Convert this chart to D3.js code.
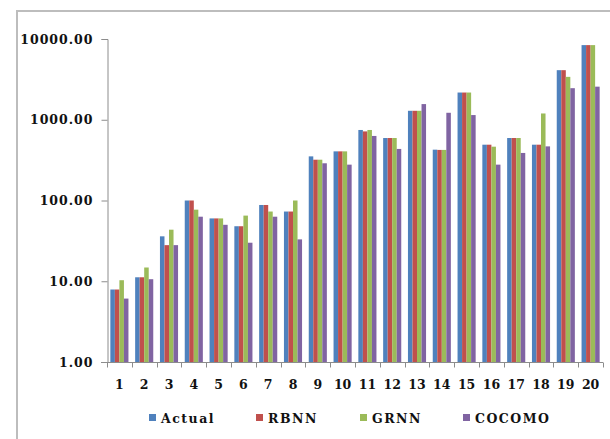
<!DOCTYPE html>
<html>
<head>
<meta charset="utf-8">
<script src="https://cdn.jsdelivr.net/npm/d3@7"></script>
<style>
  body { margin: 0; background: #fff; }
  svg text { font-family: "DejaVu Serif", serif; font-weight: bold; fill: #111; }
</style>
</head>
<body>
<div id="chart"></div>
<script>
var categories = ["1", "2", "3", "4", "5", "6", "7", "8", "9", "10",
    "11", "12", "13", "14", "15", "16", "17", "18", "19", "20"];
var seriesNames = ["Actual", "RBNN", "GRNN", "COCOMO"];
var actual = [7.9, 11.2, 36, 100, 60, 48, 88, 73, 352, 406, 747, 594, 1291, 426, 2173, 491, 594, 491, 4111, 8400];
var rbnn = [7.9, 11.2, 28, 100, 60, 48, 88, 73, 320, 406, 717, 594, 1291, 423, 2173, 491, 594, 491, 4111, 8400];
var grnn = [10.3, 14.8, 43.5, 77, 60, 65, 73, 100, 320, 406, 747, 594, 1291, 423, 2173, 464, 594, 1196, 3397, 8400];
var cocomo = [6.1, 10.6, 28, 63, 50, 30, 63, 33, 289, 278, 630, 435, 1563, 1220, 1143, 278, 388, 468, 2460, 2569];
var yTicks = [1, 10, 100, 1000, 10000];
var colors = ["#4f81bd", "#c0504d", "#9bbb59", "#8064a2"];

var allSeries = [actual, rbnn, grnn, cocomo];

var width = 610,
    height = 439,
    plot = { left: 107, right: 603, top: 39, bottom: 362 };

var svg = d3.select("#chart").append("svg")
    .attr("width", width)
    .attr("height", height);

// chart frame (only left and top edges are in view)
svg.append("path")
    .attr("d", "M17,439V11H610")
    .attr("fill", "none")
    .attr("stroke", "#bdbdbd")
    .attr("stroke-width", 2);

var x = d3.scaleBand()
    .domain(categories)
    .range([plot.left, plot.right])
    .paddingInner(0.27)
    .paddingOuter(0.135);

var xs = d3.scaleBand()
    .domain(seriesNames)
    .range([0, x.bandwidth()]);

var y = d3.scaleLog()
    .domain([1, 10000])
    .range([plot.bottom, plot.top]);

// bars
var rows = categories.map(function (c, i) {
    return seriesNames.map(function (s, j) {
        return { cat: c, name: s, value: allSeries[j][i], color: colors[j] };
    });
});

svg.append("g").selectAll("g")
    .data(rows)
    .enter().append("g")
    .attr("transform", function (d) {
        return "translate(" + x(d[0].cat) + ",0)";
    })
    .selectAll("rect")
    .data(function (d) { return d; })
    .enter().append("rect")
    .attr("x", function (d) { return xs(d.name); })
    .attr("y", function (d) { return y(d.value); })
    .attr("width", xs.bandwidth())
    .attr("height", function (d) { return plot.bottom - y(d.value); })
    .attr("fill", function (d) { return d.color; });

// y axis
var yAxis = d3.axisLeft(y)
    .tickValues(yTicks)
    .tickSize(6)
    .tickPadding(8)
    .tickFormat(d3.format(".2f"));

var gy = svg.append("g")
    .attr("transform", "translate(" + (plot.left + 0.5) + ",0)")
    .call(yAxis);
gy.select(".domain").attr("stroke", "#8c8c8c");
gy.selectAll(".tick line").attr("stroke", "#8c8c8c");
gy.selectAll("text")
    .style("font-size", "12.5px")
    .style("letter-spacing", "1px");

// x axis
var gx = svg.append("g")
    .attr("transform", "translate(0," + (plot.bottom + 0.5) + ")");
gx.append("line")
    .attr("x1", plot.left - 6)
    .attr("x2", plot.right)
    .attr("stroke", "#8c8c8c");
gx.selectAll("line.tick")
    .data(d3.range(categories.length + 1))
    .enter().append("line")
    .attr("class", "tick")
    .attr("x1", function (i) { return Math.round(plot.left + i * x.step()) + 0.5; })
    .attr("x2", function (i) { return Math.round(plot.left + i * x.step()) + 0.5; })
    .attr("y1", 0)
    .attr("y2", 5)
    .attr("stroke", "#8c8c8c");
gx.selectAll("text")
    .data(categories)
    .enter().append("text")
    .attr("x", function (d) { return x(d) + x.bandwidth() / 2; })
    .attr("y", 26)
    .attr("text-anchor", "middle")
    .style("font-size", "12.5px")
    .text(function (d) { return d; });

// legend
var legendX = [149, 256, 360, 463];
var legend = svg.append("g").selectAll("g")
    .data(seriesNames)
    .enter().append("g")
    .attr("transform", function (d, i) {
        return "translate(" + legendX[i] + ",418)";
    });
legend.append("rect")
    .attr("x", 0)
    .attr("y", -4)
    .attr("width", 7)
    .attr("height", 7)
    .attr("fill", function (d, i) { return colors[i]; });
legend.append("text")
    .attr("x", 12)
    .attr("y", 4.5)
    .style("font-size", "12.5px")
    .style("letter-spacing", "1.5px")
    .text(function (d) { return d; });
</script>
</body>
</html>
